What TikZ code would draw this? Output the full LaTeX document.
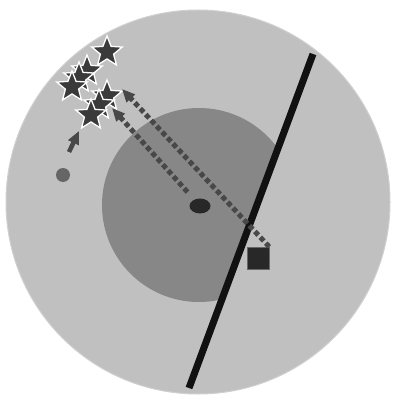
\documentclass[tikz,border=0pt]{standalone}
\usepackage{tikz}
\usetikzlibrary{shapes.geometric,arrows.meta,positioning,calc}
\definecolor{discgray}{RGB}{192,192,192}
\definecolor{rimgray}{RGB}{208,208,208}
\definecolor{coregray}{RGB}{135,135,135}
\definecolor{beamblack}{RGB}{17,17,17}
\definecolor{pathgray}{RGB}{72,72,72}
\definecolor{stargray}{RGB}{58,58,58}
\definecolor{dotgray}{RGB}{102,102,102}
\definecolor{bodyblack}{RGB}{40,40,40}

\begin{document}
\begin{tikzpicture}[
    x=1pt, y=-1pt,
    >={Triangle[length=13pt,width=11pt]},
    starnode/.style={star, star points=5, star point ratio=2.3, minimum size=32pt, inner sep=0pt, fill=stargray, draw=white, line width=1.3pt},
    pathline/.style={draw=pathgray, line width=5pt, dash pattern=on 5pt off 3pt},
    hopline/.style={draw=pathgray, line width=4.5pt},
    ovalnode/.style={ellipse, fill=bodyblack, minimum width=21pt, minimum height=15pt, inner sep=0pt},
    boxnode/.style={rectangle, fill=bodyblack, draw=dotgray, line width=0.4pt, minimum size=22pt, inner sep=0pt},
    dotnode/.style={circle, fill=dotgray, minimum size=14pt, inner sep=0pt}
]
    \useasboundingbox (0,0) rectangle (393,395);

    % discs, the inner one cut off by the beam
    \fill[discgray, draw=rimgray, line width=1pt] (198,202) circle (192);
    \begin{scope}
        \clip (333,0) -- (186,395) -- (0,395) -- (0,0) -- cycle;
        \fill[coregray] (199,205) circle (97);
    \end{scope}

    % bodies
    \node (oval) [ovalnode] at (200,206) {};
    \node (sq) [boxnode] at (258,258) {};
    \node (dot) [dotnode] at (63,175) {};

    % beam
    \coordinate (beamtop) at (313,54);
    \coordinate (beambot) at (189,388);
    \draw[beamblack, line width=7pt] (beamtop) -- (beambot);

    % stars
    \node (s1) [starnode] at (107,52) {};
    \node (s2) [starnode] at (87,71) {};
    \node (s3) [starnode] at (79,78) {};
    \node (s4) [starnode] at (72,87) {};
    \node (s5) [starnode] at (107,96) {};
    \node (s6) [starnode] at (99,105) {};
    \node (s7) [starnode] at (91,115) {};

    % paths
    \coordinate (aimA) at (112,108);
    \coordinate (aimB) at (122,89);
    \coordinate (hopfrom) at (69,152);
    \coordinate (hopto) at (79,131);
    \draw[pathline, ->, shorten <=10pt] (oval) -- (aimA);
    \draw[pathline, ->] (sq.north east) -- (aimB);
    \draw[hopline, ->] (hopfrom) -- (hopto);

\end{tikzpicture}
\end{document}
